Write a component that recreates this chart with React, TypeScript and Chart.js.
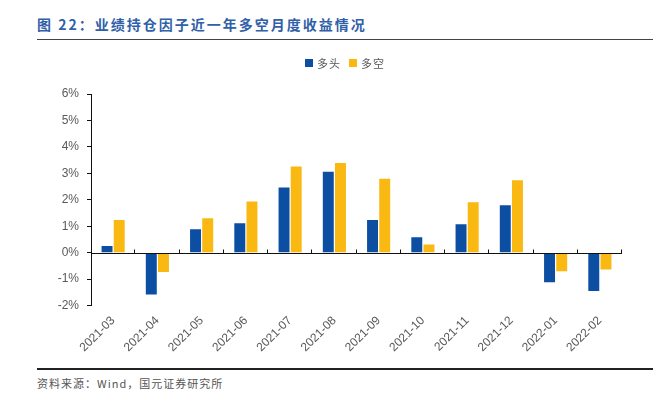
import React, { useEffect, useRef } from "react";
import { Chart, registerables } from "chart.js";

Chart.register(...registerables);

const categories = [
  "2021-03", "2021-04", "2021-05", "2021-06", "2021-07", "2021-08",
  "2021-09", "2021-10", "2021-11", "2021-12", "2022-01", "2022-02",
];
const longValues = [0.25, -1.58, 0.88, 1.11, 2.46, 3.06, 1.23, 0.58, 1.07, 1.79, -1.12, -1.45];
const longShortValues = [1.23, -0.73, 1.3, 1.93, 3.26, 3.39, 2.79, 0.31, 1.91, 2.74, -0.7, -0.64];
const seriesNames = ["多头", "多空"];
const titleText = "图 22：业绩持仓因子近一年多空月度收益情况";
const sourceText = "资料来源：Wind，国元证券研究所";

const BLUE = "#0B4EA2";
const YELLOW = "#F9B912";

const zeroLinePlugin = {
  id: "zeroLine",
  afterDatasetsDraw(chart: any) {
    const { ctx, chartArea, scales } = chart;
    const y0 = Math.round(scales.y.getPixelForValue(0)) + 0.5;
    ctx.save();
    ctx.strokeStyle = "#111";
    ctx.lineWidth = 1;
    ctx.beginPath();
    ctx.moveTo(chartArea.left, y0);
    ctx.lineTo(chartArea.right, y0);
    const n = categories.length;
    const w = (chartArea.right - chartArea.left) / n;
    for (let k = 1; k <= n; k++) {
      const x = Math.round(chartArea.left + w * k) - 0.5;
      ctx.moveTo(x, y0);
      ctx.lineTo(x, y0 - 4);
    }
    ctx.stroke();
    ctx.restore();
  },
};

export default function App() {
  const ref = useRef<HTMLCanvasElement | null>(null);

  useEffect(() => {
    document.body.style.margin = "0";
    if (!ref.current) return;
    const chart = new Chart(ref.current, {
      type: "bar",
      data: {
        labels: categories,
        datasets: [
          {
            label: seriesNames[0],
            data: longValues,
            backgroundColor: BLUE,
            barPercentage: 0.9,
            categoryPercentage: 0.55,
          },
          {
            label: seriesNames[1],
            data: longShortValues,
            backgroundColor: YELLOW,
            barPercentage: 0.9,
            categoryPercentage: 0.55,
          },
        ],
      },
      options: {
        animation: false,
        responsive: false,
        maintainAspectRatio: false,
        layout: { padding: { top: 94, right: 40, left: 0, bottom: 0 } },
        plugins: {
          legend: { display: false },
          tooltip: { enabled: false },
        },
        scales: {
          x: {
            grid: { display: false, drawTicks: false },
            border: { display: false },
            ticks: {
              maxRotation: 45,
              minRotation: 45,
              color: "#595959",
              padding: 8,
              font: { family: "'Liberation Sans', Arial, sans-serif", size: 12 },
            },
            afterFit(scale: any) {
              scale.height = 59.5;
            },
          },
          y: {
            min: -2,
            max: 6,
            grid: {
              display: true,
              drawOnChartArea: false,
              drawTicks: true,
              tickLength: 4,
              color: "#111",
            },
            border: { display: true, color: "#111", width: 1 },
            ticks: {
              stepSize: 1,
              color: "#595959",
              padding: 8,
              font: { family: "'Liberation Sans', Arial, sans-serif", size: 12 },
              callback: (v: any) => `${v}%`,
            },
            afterFit(scale: any) {
              scale.width = 91;
            },
          },
        },
      },
      plugins: [zeroLinePlugin],
    });
    return () => chart.destroy();
  }, []);

  const cjk = "'Noto Sans CJK SC', 'Noto Sans', sans-serif";

  return (
    <div style={{ position: "fixed", left: 0, top: 0, width: 662, height: 399, background: "#fff", overflow: "hidden" }}>
      <div
        style={{
          position: "absolute", left: 37, top: 14, fontFamily: cjk, fontWeight: 700,
          fontSize: 14, letterSpacing: 2, color: "#3060A8", whiteSpace: "nowrap", lineHeight: "20px",
        }}
      >
        {titleText}
      </div>
      <div style={{ position: "absolute", left: 37, top: 39, width: 616, height: 1, background: "#444" }} />
      <canvas ref={ref} width={662} height={365} style={{ position: "absolute", left: 0, top: 0 }} />
      <div style={{ position: "absolute", left: 305, top: 59, width: 8, height: 8, background: BLUE }} />
      <div style={{ position: "absolute", left: 317, top: 55, fontFamily: cjk, fontSize: 11, color: "#595959", lineHeight: "16px", letterSpacing: 1 }}>
        {seriesNames[0]}
      </div>
      <div style={{ position: "absolute", left: 349, top: 59, width: 8, height: 8, background: YELLOW }} />
      <div style={{ position: "absolute", left: 361, top: 55, fontFamily: cjk, fontSize: 11, color: "#595959", lineHeight: "16px", letterSpacing: 1 }}>
        {seriesNames[1]}
      </div>
      <div style={{ position: "absolute", left: 37, top: 368, width: 616, height: 2, background: "#222" }} />
      <div style={{ position: "absolute", left: 37, top: 375, fontFamily: cjk, fontSize: 11, color: "#555", lineHeight: "16px", letterSpacing: 1, whiteSpace: "nowrap" }}>
        {sourceText}
      </div>
    </div>
  );
}
